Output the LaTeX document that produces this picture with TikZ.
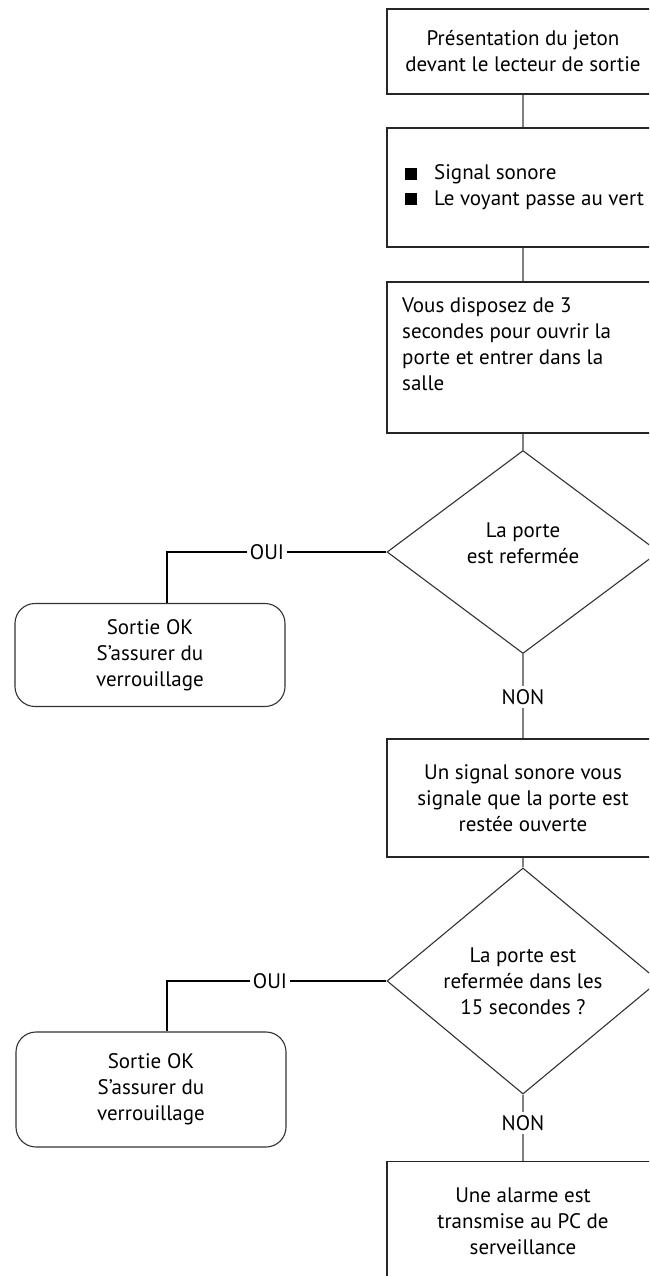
\documentclass[tikz,border=0pt]{standalone}
\usepackage{fontspec}
\setmainfont{PT Sans}
\usetikzlibrary{shapes.geometric,calc}
\begin{document}
\begin{tikzpicture}[x=1pt,y=-1pt,
  every node/.style={font=\fontsize{21}{26}\selectfont},
  box/.style={draw=black!85,line width=1.4pt,rectangle,minimum width=272pt,inner sep=0pt,align=center},
  dec/.style={draw=black!80,line width=1.1pt,diamond,minimum width=272pt,inner sep=0pt,align=center},
  endbox/.style={draw=black!80,line width=1.1pt,rectangle,rounded corners=20pt,inner sep=0pt,align=center},
  flow/.style={draw=black!50,line width=2pt},
  yes/.style={draw=black,line width=1.1pt},
  lab/.style={inner sep=3pt},
  txt/.style={anchor=base west,inner sep=0pt}
]
\useasboundingbox (0,0) rectangle (649,1276);
\clip (0,0) rectangle (649,1276);
\fill[white] (0,0) rectangle (649,1276);

\node[box,minimum height=85pt] (b1) at (523,51.5) {Présentation du jeton\\devant le lecteur de sortie};
\node[box,minimum height=119pt] (b2) at (523,187.5) {};
\node[txt] (t2a) at (405,180) {\rule{12pt}{12pt}\hspace{17pt}Signal sonore};
\node[txt] (t2b) at (405,205) {\rule{12pt}{12pt}\hspace{17pt}Le voyant passe au vert};
\node[box,minimum height=151pt] (b3) at (523,357.5) {};
\node[txt] (t3) at (402,312) {Vous disposez de 3};
\node[txt] (t3b) at (402,338) {secondes pour ouvrir la};
\node[txt] (t3c) at (402,364) {porte et entrer dans la};
\node[txt] (t3d) at (402,390) {salle};

\node[dec,minimum height=203pt] (d1) at (523,552) {La porte\\est refermée\\[-8pt]};
\node[endbox,minimum width=270pt,minimum height=103pt] (r1) at (150,655) {Sortie OK\\S'assurer du\\verrouillage};
\node[lab] (oui1) at (267,552) {OUI};
\node[lab] (non1) at (523,697) {NON};

\node[box,minimum height=118pt] (b4) at (523,798) {Un signal sonore vous\\signale que la porte est\\restée ouverte};
\node[dec,minimum height=202pt] (d2) at (523,981) {La porte est\\refermée dans les\\15 secondes ?};
\node[endbox,minimum width=270pt,minimum height=115pt] (r2) at (151,1089.5) {Sortie OK\\S'assurer du\\verrouillage};
\node[lab] (oui2) at (270,981) {OUI};
\node[lab] (non2) at (523,1123) {NON};
\node[box,minimum height=119pt] (b5) at (523,1221) {Une alarme est\\transmise au PC de\\serveillance};

\coordinate (c1) at (167,552);
\coordinate (c2) at (167,981);

\draw[flow] (b1.south) -- (b2.north);
\draw[flow] (b2.south) -- (b3.north);
\draw[flow] (b3.south) -- (d1.north);
\draw[yes] (d1.west) -- (oui1.east);
\draw[yes] (oui1.west) -- (c1) -- (c1 |- r1.north);
\draw[flow] (d1.south) -- (non1.north);
\draw[flow] (non1.south) -- (b4.north);
\draw[flow] (b4.south) -- (d2.north);
\draw[yes] (d2.west) -- (oui2.east);
\draw[yes] (oui2.west) -- (c2) -- (c2 |- r2.north);
\draw[flow] (d2.south) -- (non2.north);
\draw[flow] (non2.south) -- (b5.north);
\end{tikzpicture}
\end{document}
